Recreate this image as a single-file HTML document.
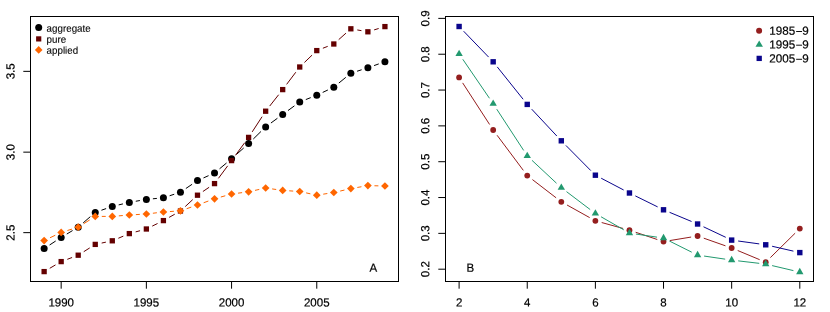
<!DOCTYPE html>
<html><head><meta charset="utf-8"><title>chart</title>
<style>html,body{margin:0;padding:0;background:#fff;}svg{display:block;will-change:transform;}text{fill:#000;stroke:#000;stroke-width:0.2px;}</style>
</head><body>
<svg width="830" height="312" viewBox="0 0 830 312">
<rect x="0" y="0" width="830" height="312" fill="#fff"/>
<line x1="49.60" y1="245.00" x2="55.70" y2="241.00" stroke="#000" stroke-width="1"/>
<line x1="66.79" y1="234.04" x2="72.59" y2="230.56" stroke="#000" stroke-width="1"/>
<line x1="83.16" y1="222.90" x2="90.30" y2="216.70" stroke="#000" stroke-width="1"/>
<line x1="101.43" y1="210.22" x2="106.11" y2="208.58" stroke="#000" stroke-width="1"/>
<line x1="118.67" y1="204.90" x2="122.95" y2="203.90" stroke="#000" stroke-width="1"/>
<line x1="135.78" y1="201.26" x2="139.92" y2="200.54" stroke="#000" stroke-width="1"/>
<line x1="152.89" y1="198.79" x2="156.89" y2="198.41" stroke="#000" stroke-width="1"/>
<line x1="169.63" y1="195.76" x2="174.23" y2="194.24" stroke="#000" stroke-width="1"/>
<line x1="185.86" y1="188.51" x2="192.08" y2="184.29" stroke="#000" stroke-width="1"/>
<line x1="203.47" y1="177.93" x2="208.55" y2="175.67" stroke="#000" stroke-width="1"/>
<line x1="219.56" y1="168.81" x2="226.54" y2="162.99" stroke="#000" stroke-width="1"/>
<line x1="236.46" y1="154.44" x2="243.72" y2="147.96" stroke="#000" stroke-width="1"/>
<line x1="253.29" y1="139.02" x2="260.97" y2="131.48" stroke="#000" stroke-width="1"/>
<line x1="270.93" y1="123.03" x2="277.41" y2="118.27" stroke="#000" stroke-width="1"/>
<line x1="287.99" y1="110.55" x2="294.43" y2="105.85" stroke="#000" stroke-width="1"/>
<line x1="305.81" y1="99.57" x2="310.69" y2="97.63" stroke="#000" stroke-width="1"/>
<line x1="322.70" y1="92.42" x2="327.88" y2="89.98" stroke="#000" stroke-width="1"/>
<line x1="338.87" y1="83.04" x2="345.79" y2="77.36" stroke="#000" stroke-width="1"/>
<line x1="357.09" y1="71.22" x2="361.65" y2="69.78" stroke="#000" stroke-width="1"/>
<line x1="374.06" y1="65.59" x2="378.76" y2="63.91" stroke="#000" stroke-width="1"/>
<circle cx="44.13" cy="248.60" r="3.5" fill="#000"/>
<circle cx="61.17" cy="237.40" r="3.5" fill="#000"/>
<circle cx="78.21" cy="227.20" r="3.5" fill="#000"/>
<circle cx="95.25" cy="212.40" r="3.5" fill="#000"/>
<circle cx="112.29" cy="206.40" r="3.5" fill="#000"/>
<circle cx="129.33" cy="202.40" r="3.5" fill="#000"/>
<circle cx="146.37" cy="199.40" r="3.5" fill="#000"/>
<circle cx="163.41" cy="197.80" r="3.5" fill="#000"/>
<circle cx="180.45" cy="192.20" r="3.5" fill="#000"/>
<circle cx="197.49" cy="180.60" r="3.5" fill="#000"/>
<circle cx="214.53" cy="173.00" r="3.5" fill="#000"/>
<circle cx="231.57" cy="158.80" r="3.5" fill="#000"/>
<circle cx="248.61" cy="143.60" r="3.5" fill="#000"/>
<circle cx="265.65" cy="126.90" r="3.5" fill="#000"/>
<circle cx="282.69" cy="114.40" r="3.5" fill="#000"/>
<circle cx="299.73" cy="102.00" r="3.5" fill="#000"/>
<circle cx="316.77" cy="95.20" r="3.5" fill="#000"/>
<circle cx="333.81" cy="87.20" r="3.5" fill="#000"/>
<circle cx="350.85" cy="73.20" r="3.5" fill="#000"/>
<circle cx="367.89" cy="67.80" r="3.5" fill="#000"/>
<circle cx="384.93" cy="61.70" r="3.5" fill="#000"/>
<line x1="49.78" y1="268.28" x2="55.52" y2="264.92" stroke="#640000" stroke-width="1"/>
<line x1="67.30" y1="259.30" x2="72.08" y2="257.50" stroke="#640000" stroke-width="1"/>
<line x1="83.74" y1="251.69" x2="89.72" y2="247.91" stroke="#640000" stroke-width="1"/>
<line x1="101.66" y1="243.05" x2="105.88" y2="242.15" stroke="#640000" stroke-width="1"/>
<line x1="118.32" y1="238.25" x2="123.30" y2="236.15" stroke="#640000" stroke-width="1"/>
<line x1="135.65" y1="231.89" x2="140.05" y2="230.71" stroke="#640000" stroke-width="1"/>
<line x1="152.24" y1="226.10" x2="157.54" y2="223.50" stroke="#640000" stroke-width="1"/>
<line x1="169.12" y1="217.38" x2="174.74" y2="214.22" stroke="#640000" stroke-width="1"/>
<line x1="185.25" y1="206.55" x2="192.69" y2="199.65" stroke="#640000" stroke-width="1"/>
<line x1="202.90" y1="191.51" x2="209.12" y2="187.29" stroke="#640000" stroke-width="1"/>
<line x1="218.43" y1="178.34" x2="227.67" y2="165.86" stroke="#640000" stroke-width="1"/>
<line x1="235.45" y1="155.32" x2="244.73" y2="142.68" stroke="#640000" stroke-width="1"/>
<line x1="252.18" y1="131.91" x2="262.08" y2="116.69" stroke="#640000" stroke-width="1"/>
<line x1="269.71" y1="106.06" x2="278.63" y2="94.74" stroke="#640000" stroke-width="1"/>
<line x1="286.63" y1="84.37" x2="295.79" y2="72.23" stroke="#640000" stroke-width="1"/>
<line x1="304.45" y1="62.46" x2="312.05" y2="55.14" stroke="#640000" stroke-width="1"/>
<line x1="322.88" y1="48.23" x2="327.70" y2="46.37" stroke="#640000" stroke-width="1"/>
<line x1="338.70" y1="39.64" x2="345.96" y2="33.16" stroke="#640000" stroke-width="1"/>
<line x1="357.30" y1="29.94" x2="361.44" y2="30.66" stroke="#640000" stroke-width="1"/>
<line x1="374.15" y1="29.89" x2="378.67" y2="28.51" stroke="#640000" stroke-width="1"/>
<rect x="41.48" y="268.95" width="5.3" height="5.3" fill="#640000"/>
<rect x="58.52" y="258.95" width="5.3" height="5.3" fill="#640000"/>
<rect x="75.56" y="252.55" width="5.3" height="5.3" fill="#640000"/>
<rect x="92.60" y="241.75" width="5.3" height="5.3" fill="#640000"/>
<rect x="109.64" y="238.15" width="5.3" height="5.3" fill="#640000"/>
<rect x="126.68" y="230.95" width="5.3" height="5.3" fill="#640000"/>
<rect x="143.72" y="226.35" width="5.3" height="5.3" fill="#640000"/>
<rect x="160.76" y="217.95" width="5.3" height="5.3" fill="#640000"/>
<rect x="177.80" y="208.35" width="5.3" height="5.3" fill="#640000"/>
<rect x="194.84" y="192.55" width="5.3" height="5.3" fill="#640000"/>
<rect x="211.88" y="180.95" width="5.3" height="5.3" fill="#640000"/>
<rect x="228.92" y="157.95" width="5.3" height="5.3" fill="#640000"/>
<rect x="245.96" y="134.75" width="5.3" height="5.3" fill="#640000"/>
<rect x="263.00" y="108.55" width="5.3" height="5.3" fill="#640000"/>
<rect x="280.04" y="86.95" width="5.3" height="5.3" fill="#640000"/>
<rect x="297.08" y="64.35" width="5.3" height="5.3" fill="#640000"/>
<rect x="314.12" y="47.95" width="5.3" height="5.3" fill="#640000"/>
<rect x="331.16" y="41.35" width="5.3" height="5.3" fill="#640000"/>
<rect x="348.20" y="26.15" width="5.3" height="5.3" fill="#640000"/>
<rect x="365.24" y="29.15" width="5.3" height="5.3" fill="#640000"/>
<rect x="382.28" y="23.95" width="5.3" height="5.3" fill="#640000"/>
<line x1="50.03" y1="237.76" x2="55.27" y2="235.24" stroke="#FF6600" stroke-width="1"/>
<line x1="67.43" y1="230.49" x2="71.95" y2="229.11" stroke="#FF6600" stroke-width="1"/>
<line x1="83.74" y1="223.69" x2="89.72" y2="219.91" stroke="#FF6600" stroke-width="1"/>
<line x1="101.80" y1="216.40" x2="105.74" y2="216.40" stroke="#FF6600" stroke-width="1"/>
<line x1="118.82" y1="215.86" x2="122.80" y2="215.54" stroke="#FF6600" stroke-width="1"/>
<line x1="135.87" y1="214.62" x2="139.83" y2="214.38" stroke="#FF6600" stroke-width="1"/>
<line x1="152.88" y1="213.24" x2="156.90" y2="212.76" stroke="#FF6600" stroke-width="1"/>
<line x1="169.94" y1="211.54" x2="173.92" y2="211.26" stroke="#FF6600" stroke-width="1"/>
<line x1="186.65" y1="208.69" x2="191.29" y2="207.11" stroke="#FF6600" stroke-width="1"/>
<line x1="203.65" y1="202.76" x2="208.37" y2="201.04" stroke="#FF6600" stroke-width="1"/>
<line x1="220.83" y1="197.02" x2="225.27" y2="195.78" stroke="#FF6600" stroke-width="1"/>
<line x1="238.07" y1="193.16" x2="242.11" y2="192.64" stroke="#FF6600" stroke-width="1"/>
<line x1="255.00" y1="190.37" x2="259.26" y2="189.43" stroke="#FF6600" stroke-width="1"/>
<line x1="272.14" y1="188.91" x2="276.20" y2="189.49" stroke="#FF6600" stroke-width="1"/>
<line x1="289.23" y1="190.82" x2="293.19" y2="191.08" stroke="#FF6600" stroke-width="1"/>
<line x1="306.13" y1="192.89" x2="310.37" y2="193.81" stroke="#FF6600" stroke-width="1"/>
<line x1="323.24" y1="194.17" x2="327.34" y2="193.53" stroke="#FF6600" stroke-width="1"/>
<line x1="340.19" y1="191.04" x2="344.47" y2="190.06" stroke="#FF6600" stroke-width="1"/>
<line x1="357.30" y1="187.46" x2="361.44" y2="186.74" stroke="#FF6600" stroke-width="1"/>
<line x1="374.44" y1="185.75" x2="378.38" y2="185.85" stroke="#FF6600" stroke-width="1"/>
<path d="M40.28 240.60L44.13 236.75L47.98 240.60L44.13 244.45Z" fill="#FF6600"/>
<path d="M57.32 232.40L61.17 228.55L65.02 232.40L61.17 236.25Z" fill="#FF6600"/>
<path d="M74.36 227.20L78.21 223.35L82.06 227.20L78.21 231.05Z" fill="#FF6600"/>
<path d="M91.40 216.40L95.25 212.55L99.10 216.40L95.25 220.25Z" fill="#FF6600"/>
<path d="M108.44 216.40L112.29 212.55L116.14 216.40L112.29 220.25Z" fill="#FF6600"/>
<path d="M125.48 215.00L129.33 211.15L133.18 215.00L129.33 218.85Z" fill="#FF6600"/>
<path d="M142.52 214.00L146.37 210.15L150.22 214.00L146.37 217.85Z" fill="#FF6600"/>
<path d="M159.56 212.00L163.41 208.15L167.26 212.00L163.41 215.85Z" fill="#FF6600"/>
<path d="M176.60 210.80L180.45 206.95L184.30 210.80L180.45 214.65Z" fill="#FF6600"/>
<path d="M193.64 205.00L197.49 201.15L201.34 205.00L197.49 208.85Z" fill="#FF6600"/>
<path d="M210.68 198.80L214.53 194.95L218.38 198.80L214.53 202.65Z" fill="#FF6600"/>
<path d="M227.72 194.00L231.57 190.15L235.42 194.00L231.57 197.85Z" fill="#FF6600"/>
<path d="M244.76 191.80L248.61 187.95L252.46 191.80L248.61 195.65Z" fill="#FF6600"/>
<path d="M261.80 188.00L265.65 184.15L269.50 188.00L265.65 191.85Z" fill="#FF6600"/>
<path d="M278.84 190.40L282.69 186.55L286.54 190.40L282.69 194.25Z" fill="#FF6600"/>
<path d="M295.88 191.50L299.73 187.65L303.58 191.50L299.73 195.35Z" fill="#FF6600"/>
<path d="M312.92 195.20L316.77 191.35L320.62 195.20L316.77 199.05Z" fill="#FF6600"/>
<path d="M329.96 192.50L333.81 188.65L337.66 192.50L333.81 196.35Z" fill="#FF6600"/>
<path d="M347.00 188.60L350.85 184.75L354.70 188.60L350.85 192.45Z" fill="#FF6600"/>
<path d="M364.04 185.60L367.89 181.75L371.74 185.60L367.89 189.45Z" fill="#FF6600"/>
<path d="M381.08 186.00L384.93 182.15L388.78 186.00L384.93 189.85Z" fill="#FF6600"/>
<rect x="30.5" y="16.5" width="368.0" height="265.0" fill="none" stroke="#000" stroke-width="1"/>
<line x1="61.17" y1="281.5" x2="61.17" y2="288.7" stroke="#000" stroke-width="1"/>
<text transform="matrix(0.976 0.0006 0 1 61.17 306.6)" font-size="11.8" text-anchor="middle" font-family="Liberation Sans, sans-serif">1990</text>
<line x1="146.37" y1="281.5" x2="146.37" y2="288.7" stroke="#000" stroke-width="1"/>
<text transform="matrix(0.976 0.0006 0 1 146.37 306.6)" font-size="11.8" text-anchor="middle" font-family="Liberation Sans, sans-serif">1995</text>
<line x1="231.57" y1="281.5" x2="231.57" y2="288.7" stroke="#000" stroke-width="1"/>
<text transform="matrix(0.976 0.0006 0 1 231.57 306.6)" font-size="11.8" text-anchor="middle" font-family="Liberation Sans, sans-serif">2000</text>
<line x1="316.77" y1="281.5" x2="316.77" y2="288.7" stroke="#000" stroke-width="1"/>
<text transform="matrix(0.976 0.0006 0 1 316.77 306.6)" font-size="11.8" text-anchor="middle" font-family="Liberation Sans, sans-serif">2005</text>
<line x1="23.3" y1="71.35" x2="30.5" y2="71.35" stroke="#000" stroke-width="1"/>
<text transform="matrix(0.0006 -0.976 1 0 14.5 71.35)" font-size="11.8" text-anchor="middle" font-family="Liberation Sans, sans-serif">3.5</text>
<line x1="23.3" y1="152.15" x2="30.5" y2="152.15" stroke="#000" stroke-width="1"/>
<text transform="matrix(0.0006 -0.976 1 0 14.5 152.15)" font-size="11.8" text-anchor="middle" font-family="Liberation Sans, sans-serif">3.0</text>
<line x1="23.3" y1="232.65" x2="30.5" y2="232.65" stroke="#000" stroke-width="1"/>
<text transform="matrix(0.0006 -0.976 1 0 14.5 232.65)" font-size="11.8" text-anchor="middle" font-family="Liberation Sans, sans-serif">2.5</text>
<circle cx="38.70" cy="27.50" r="3.5" fill="#000"/>
<rect x="36.10" y="36.30" width="5.2" height="5.2" fill="#640000"/>
<path d="M34.90 49.90L38.70 46.10L42.50 49.90L38.70 53.70Z" fill="#FF6600"/>
<text style="stroke-width:0.1px" transform="matrix(0.98 0.0006 0 1 46.6 31.65)" font-size="10.0" text-anchor="start" font-family="Liberation Sans, sans-serif">aggregate</text>
<text style="stroke-width:0.1px" transform="matrix(0.98 0.0006 0 1 46.6 42.75)" font-size="10.0" text-anchor="start" font-family="Liberation Sans, sans-serif">pure</text>
<text style="stroke-width:0.1px" transform="matrix(0.98 0.0006 0 1 46.6 53.75)" font-size="10.0" text-anchor="start" font-family="Liberation Sans, sans-serif">applied</text>
<text transform="matrix(0.976 0.0006 0 1 373.4 271.7)" font-size="11.8" text-anchor="middle" font-family="Liberation Sans, sans-serif">A</text>
<line x1="462.66" y1="82.90" x2="489.61" y2="124.50" stroke="#941E1E" stroke-width="1"/>
<line x1="497.09" y1="135.25" x2="523.32" y2="170.35" stroke="#941E1E" stroke-width="1"/>
<line x1="532.43" y1="179.59" x2="556.12" y2="197.81" stroke="#941E1E" stroke-width="1"/>
<line x1="567.03" y1="204.99" x2="589.66" y2="217.61" stroke="#941E1E" stroke-width="1"/>
<line x1="601.69" y1="222.54" x2="623.14" y2="228.46" stroke="#941E1E" stroke-width="1"/>
<line x1="635.66" y1="232.28" x2="657.31" y2="239.52" stroke="#941E1E" stroke-width="1"/>
<line x1="669.98" y1="240.54" x2="691.13" y2="237.06" stroke="#941E1E" stroke-width="1"/>
<line x1="703.77" y1="238.18" x2="725.48" y2="245.82" stroke="#941E1E" stroke-width="1"/>
<line x1="737.71" y1="250.52" x2="759.68" y2="259.68" stroke="#941E1E" stroke-width="1"/>
<line x1="770.39" y1="257.60" x2="795.14" y2="233.20" stroke="#941E1E" stroke-width="1"/>
<circle cx="459.10" cy="77.40" r="2.9" fill="#941E1E"/>
<circle cx="493.17" cy="130.00" r="2.9" fill="#941E1E"/>
<circle cx="527.24" cy="175.60" r="2.9" fill="#941E1E"/>
<circle cx="561.31" cy="201.80" r="2.9" fill="#941E1E"/>
<circle cx="595.38" cy="220.80" r="2.9" fill="#941E1E"/>
<circle cx="629.45" cy="230.20" r="2.9" fill="#941E1E"/>
<circle cx="663.52" cy="241.60" r="2.9" fill="#941E1E"/>
<circle cx="697.59" cy="236.00" r="2.9" fill="#941E1E"/>
<circle cx="731.66" cy="248.00" r="2.9" fill="#941E1E"/>
<circle cx="765.73" cy="262.20" r="2.9" fill="#941E1E"/>
<circle cx="799.80" cy="228.60" r="2.9" fill="#941E1E"/>
<line x1="462.80" y1="59.31" x2="489.47" y2="98.29" stroke="#22996F" stroke-width="1"/>
<line x1="496.75" y1="109.19" x2="523.66" y2="150.41" stroke="#22996F" stroke-width="1"/>
<line x1="532.03" y1="160.37" x2="556.52" y2="183.23" stroke="#22996F" stroke-width="1"/>
<line x1="566.53" y1="191.65" x2="590.16" y2="209.55" stroke="#22996F" stroke-width="1"/>
<line x1="601.06" y1="216.77" x2="623.77" y2="229.83" stroke="#22996F" stroke-width="1"/>
<line x1="635.93" y1="234.05" x2="657.04" y2="237.15" stroke="#22996F" stroke-width="1"/>
<line x1="669.38" y1="241.02" x2="691.73" y2="252.18" stroke="#22996F" stroke-width="1"/>
<line x1="704.07" y1="256.05" x2="725.18" y2="259.15" stroke="#22996F" stroke-width="1"/>
<line x1="738.17" y1="260.86" x2="759.22" y2="263.34" stroke="#22996F" stroke-width="1"/>
<line x1="772.11" y1="265.60" x2="793.42" y2="270.60" stroke="#22996F" stroke-width="1"/>
<path d="M459.10 49.65L462.78 56.02L455.42 56.02Z" fill="#22996F"/>
<path d="M493.17 99.45L496.85 105.82L489.49 105.82Z" fill="#22996F"/>
<path d="M527.24 151.65L530.92 158.02L523.56 158.02Z" fill="#22996F"/>
<path d="M561.31 183.45L564.99 189.82L557.63 189.82Z" fill="#22996F"/>
<path d="M595.38 209.25L599.06 215.62L591.70 215.62Z" fill="#22996F"/>
<path d="M629.45 228.85L633.13 235.22L625.77 235.22Z" fill="#22996F"/>
<path d="M663.52 233.85L667.20 240.22L659.84 240.22Z" fill="#22996F"/>
<path d="M697.59 250.85L701.27 257.22L693.91 257.22Z" fill="#22996F"/>
<path d="M731.66 255.85L735.34 262.22L727.98 262.22Z" fill="#22996F"/>
<path d="M765.73 259.85L769.41 266.22L762.05 266.22Z" fill="#22996F"/>
<path d="M799.80 267.85L803.48 274.22L796.12 274.22Z" fill="#22996F"/>
<line x1="463.65" y1="31.21" x2="488.62" y2="57.09" stroke="#0A058C" stroke-width="1"/>
<line x1="497.26" y1="66.92" x2="523.15" y2="99.28" stroke="#0A058C" stroke-width="1"/>
<line x1="531.72" y1="109.18" x2="556.83" y2="136.02" stroke="#0A058C" stroke-width="1"/>
<line x1="565.92" y1="145.45" x2="590.77" y2="170.55" stroke="#0A058C" stroke-width="1"/>
<line x1="601.19" y1="178.23" x2="623.64" y2="189.97" stroke="#0A058C" stroke-width="1"/>
<line x1="635.32" y1="195.90" x2="657.65" y2="206.90" stroke="#0A058C" stroke-width="1"/>
<line x1="669.57" y1="212.32" x2="691.54" y2="221.48" stroke="#0A058C" stroke-width="1"/>
<line x1="703.51" y1="226.80" x2="725.74" y2="237.30" stroke="#0A058C" stroke-width="1"/>
<line x1="738.15" y1="241.00" x2="759.24" y2="243.90" stroke="#0A058C" stroke-width="1"/>
<line x1="772.11" y1="246.26" x2="793.42" y2="251.14" stroke="#0A058C" stroke-width="1"/>
<rect x="456.40" y="23.80" width="5.4" height="5.4" fill="#0A058C"/>
<rect x="490.47" y="59.10" width="5.4" height="5.4" fill="#0A058C"/>
<rect x="524.54" y="101.70" width="5.4" height="5.4" fill="#0A058C"/>
<rect x="558.61" y="138.10" width="5.4" height="5.4" fill="#0A058C"/>
<rect x="592.68" y="172.50" width="5.4" height="5.4" fill="#0A058C"/>
<rect x="626.75" y="190.30" width="5.4" height="5.4" fill="#0A058C"/>
<rect x="660.82" y="207.10" width="5.4" height="5.4" fill="#0A058C"/>
<rect x="694.89" y="221.30" width="5.4" height="5.4" fill="#0A058C"/>
<rect x="728.96" y="237.40" width="5.4" height="5.4" fill="#0A058C"/>
<rect x="763.03" y="242.10" width="5.4" height="5.4" fill="#0A058C"/>
<rect x="797.10" y="249.90" width="5.4" height="5.4" fill="#0A058C"/>
<rect x="445.5" y="16.5" width="368.0" height="265.0" fill="none" stroke="#000" stroke-width="1"/>
<line x1="459.10" y1="281.5" x2="459.10" y2="288.7" stroke="#000" stroke-width="1"/>
<text transform="matrix(0.976 0.0006 0 1 459.1 306.6)" font-size="11.8" text-anchor="middle" font-family="Liberation Sans, sans-serif">2</text>
<line x1="527.24" y1="281.5" x2="527.24" y2="288.7" stroke="#000" stroke-width="1"/>
<text transform="matrix(0.976 0.0006 0 1 527.24 306.6)" font-size="11.8" text-anchor="middle" font-family="Liberation Sans, sans-serif">4</text>
<line x1="595.38" y1="281.5" x2="595.38" y2="288.7" stroke="#000" stroke-width="1"/>
<text transform="matrix(0.976 0.0006 0 1 595.38 306.6)" font-size="11.8" text-anchor="middle" font-family="Liberation Sans, sans-serif">6</text>
<line x1="663.52" y1="281.5" x2="663.52" y2="288.7" stroke="#000" stroke-width="1"/>
<text transform="matrix(0.976 0.0006 0 1 663.52 306.6)" font-size="11.8" text-anchor="middle" font-family="Liberation Sans, sans-serif">8</text>
<line x1="731.66" y1="281.5" x2="731.66" y2="288.7" stroke="#000" stroke-width="1"/>
<text transform="matrix(0.976 0.0006 0 1 731.66 306.6)" font-size="11.8" text-anchor="middle" font-family="Liberation Sans, sans-serif">10</text>
<line x1="799.80" y1="281.5" x2="799.80" y2="288.7" stroke="#000" stroke-width="1"/>
<text transform="matrix(0.976 0.0006 0 1 799.8 306.6)" font-size="11.8" text-anchor="middle" font-family="Liberation Sans, sans-serif">12</text>
<line x1="438.3" y1="269.20" x2="445.5" y2="269.20" stroke="#000" stroke-width="1"/>
<text transform="matrix(0.0006 -0.976 1 0 429.35 269.2)" font-size="11.8" text-anchor="middle" font-family="Liberation Sans, sans-serif">0.2</text>
<line x1="438.3" y1="233.37" x2="445.5" y2="233.37" stroke="#000" stroke-width="1"/>
<text transform="matrix(0.0006 -0.976 1 0 429.35 233.37)" font-size="11.8" text-anchor="middle" font-family="Liberation Sans, sans-serif">0.3</text>
<line x1="438.3" y1="197.54" x2="445.5" y2="197.54" stroke="#000" stroke-width="1"/>
<text transform="matrix(0.0006 -0.976 1 0 429.35 197.54)" font-size="11.8" text-anchor="middle" font-family="Liberation Sans, sans-serif">0.4</text>
<line x1="438.3" y1="161.71" x2="445.5" y2="161.71" stroke="#000" stroke-width="1"/>
<text transform="matrix(0.0006 -0.976 1 0 429.35 161.71)" font-size="11.8" text-anchor="middle" font-family="Liberation Sans, sans-serif">0.5</text>
<line x1="438.3" y1="125.88" x2="445.5" y2="125.88" stroke="#000" stroke-width="1"/>
<text transform="matrix(0.0006 -0.976 1 0 429.35 125.88)" font-size="11.8" text-anchor="middle" font-family="Liberation Sans, sans-serif">0.6</text>
<line x1="438.3" y1="90.05" x2="445.5" y2="90.05" stroke="#000" stroke-width="1"/>
<text transform="matrix(0.0006 -0.976 1 0 429.35 90.05)" font-size="11.8" text-anchor="middle" font-family="Liberation Sans, sans-serif">0.7</text>
<line x1="438.3" y1="54.22" x2="445.5" y2="54.22" stroke="#000" stroke-width="1"/>
<text transform="matrix(0.0006 -0.976 1 0 429.35 54.22)" font-size="11.8" text-anchor="middle" font-family="Liberation Sans, sans-serif">0.8</text>
<line x1="438.3" y1="18.39" x2="445.5" y2="18.39" stroke="#000" stroke-width="1"/>
<text transform="matrix(0.0006 -0.976 1 0 429.35 18.39)" font-size="11.8" text-anchor="middle" font-family="Liberation Sans, sans-serif">0.9</text>
<circle cx="759.10" cy="30.70" r="3.0" fill="#941E1E"/>
<path d="M759.20 40.40L762.93 46.85L755.47 46.85Z" fill="#22996F"/>
<rect x="756.55" y="55.75" width="5.3" height="5.3" fill="#0A058C"/>
<text transform="matrix(0.988 0.0006 0 1 769.3 34.8)" font-size="11.8" text-anchor="start" font-family="Liberation Sans, sans-serif">1985</text>
<rect x="796.15" y="31.00" width="5.9" height="0.95" fill="#000"/>
<text transform="matrix(0.988 0.0006 0 1 802.2 34.8)" font-size="11.8" text-anchor="start" font-family="Liberation Sans, sans-serif">9</text>
<text transform="matrix(0.988 0.0006 0 1 769.3 48.5)" font-size="11.8" text-anchor="start" font-family="Liberation Sans, sans-serif">1995</text>
<rect x="796.15" y="44.70" width="5.9" height="0.95" fill="#000"/>
<text transform="matrix(0.988 0.0006 0 1 802.2 48.5)" font-size="11.8" text-anchor="start" font-family="Liberation Sans, sans-serif">9</text>
<text transform="matrix(0.988 0.0006 0 1 769.3 62.6)" font-size="11.8" text-anchor="start" font-family="Liberation Sans, sans-serif">2005</text>
<rect x="796.15" y="58.80" width="5.9" height="0.95" fill="#000"/>
<text transform="matrix(0.988 0.0006 0 1 802.2 62.6)" font-size="11.8" text-anchor="start" font-family="Liberation Sans, sans-serif">9</text>
<text transform="matrix(0.976 0.0006 0 1 470.4 271.7)" font-size="11.8" text-anchor="middle" font-family="Liberation Sans, sans-serif">B</text>
</svg>
</body></html>
